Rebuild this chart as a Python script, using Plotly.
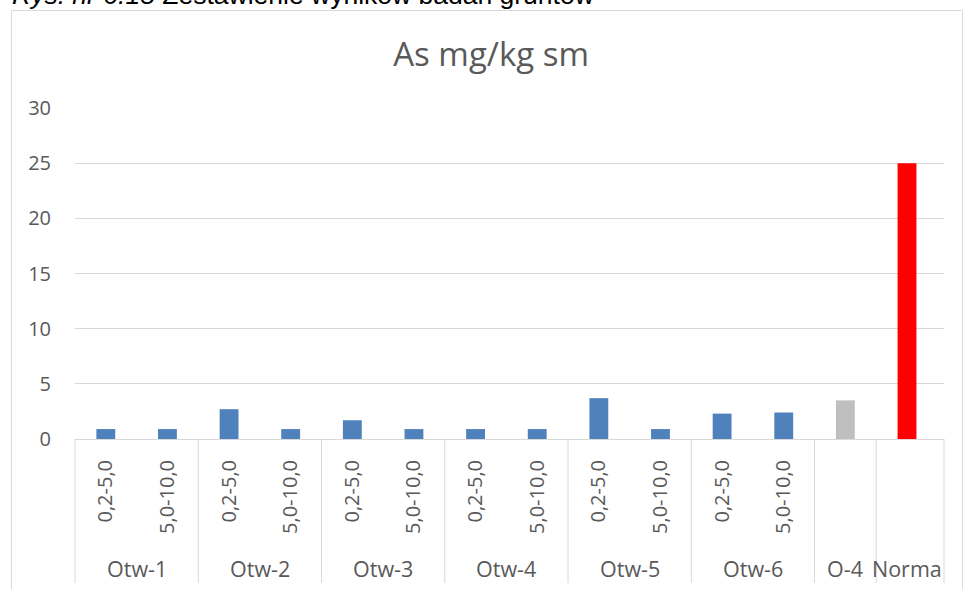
import plotly.graph_objects as go

# ---- data ----
groups = ["Otw-1", "Otw-1", "Otw-2", "Otw-2", "Otw-3", "Otw-3", "Otw-4", "Otw-4",
          "Otw-5", "Otw-5", "Otw-6", "Otw-6", "O-4", "Norma"]
depths = ["0,2-5,0", "5,0-10,0", "0,2-5,0", "5,0-10,0", "0,2-5,0", "5,0-10,0",
          "0,2-5,0", "5,0-10,0", "0,2-5,0", "5,0-10,0", "0,2-5,0", "5,0-10,0", "", ""]
values = [0.9, 0.9, 2.7, 0.9, 1.7, 0.9, 0.9, 0.9, 3.7, 0.9, 2.3, 2.4, 3.5, 25]
y_ticks = [0, 5, 10, 15, 20, 25, 30]
title_text = "As mg/kg sm"
caption = "<i>Rys. nr 6.15</i> Zestawienie wyników badań gruntów"

# ---- styling ----
color_map = {"O-4": "#BFBFBF", "Norma": "#FF0000"}
default_color = "#4F81BD"
colors = [color_map.get(g, default_color) for g in groups]
keys = [f"{g}|{d}" for g, d in zip(groups, depths)]
text_color = "#595959"
line_color = "#D9D9D9"
font_family = "Open Sans"

fig = go.Figure()
fig.add_trace(go.Bar(x=keys, y=values, marker=dict(color=colors, line=dict(width=0)),
                     hoverinfo="x+y"))

# outer group labels and dividers
unique_groups = []
for g in groups:
    if g not in unique_groups:
        unique_groups.append(g)

shapes = []
annotations = []
div_bottom = -0.435
for g in unique_groups:
    idx = [i for i, gg in enumerate(groups) if gg == g]
    center = sum(idx) / len(idx)
    annotations.append(dict(x=center, y=-0.39, xref="x", yref="paper", text=g,
                            showarrow=False, yanchor="middle", xanchor="center",
                            font=dict(family=font_family, size=21.5, color=text_color)))
    last = max(idx)
    if last < len(groups) - 1:
        shapes.append(dict(type="line", xref="x", yref="paper", x0=last + 0.5, x1=last + 0.5,
                           y0=0, y1=div_bottom, line=dict(color=line_color, width=1)))
for xd in (0, 1):
    shapes.append(dict(type="line", xref="x domain", yref="paper", x0=xd, x1=xd,
                       y0=0, y1=div_bottom, line=dict(color=line_color, width=1)))

# chart border
shapes.append(dict(type="rect", xref="paper", yref="paper", x0=-0.0731, x1=1.0213,
                   y0=-0.7, y1=1.2946, line=dict(color=line_color, width=1),
                   fillcolor="rgba(0,0,0,0)", layer="below"))

# caption partially cut at top (as in the reference)
annotations.append(dict(x=-0.0745, y=1.289, xref="paper", yref="paper", text=caption,
                        showarrow=False, xanchor="left", yanchor="bottom",
                        font=dict(family="Liberation Sans", size=26.5, color="#000000")))

fig.update_layout(
    width=963, height=589,
    margin=dict(l=75, r=19, t=108, b=150),
    paper_bgcolor="white", plot_bgcolor="white",
    bargap=0.694,
    showlegend=False,
    title=dict(text=title_text, x=0.51, xref="container", xanchor="center",
               y=1 - 54 / 589, yref="container", yanchor="middle",
               font=dict(family=font_family, size=33, color=text_color)),
    xaxis=dict(type="category", tickmode="array", tickvals=keys, ticktext=depths,
               tickangle=-90, showline=True, linecolor=line_color, linewidth=1,
               showgrid=False, ticks="", ticklabelstandoff=12,
               tickfont=dict(family=font_family, size=20, color=text_color)),
    yaxis=dict(range=[0, 30], tickvals=y_ticks, showgrid=True, gridcolor=line_color,
               gridwidth=1, zeroline=False, showline=False, ticks="",
               ticklabelstandoff=23,
               tickfont=dict(family=font_family, size=20, color=text_color)),
    shapes=shapes,
    annotations=annotations,
)

fig.write_html("out.html", config={"displayModeBar": False},
               post_script="document.body.style.margin='0';document.body.style.overflow='hidden';")
